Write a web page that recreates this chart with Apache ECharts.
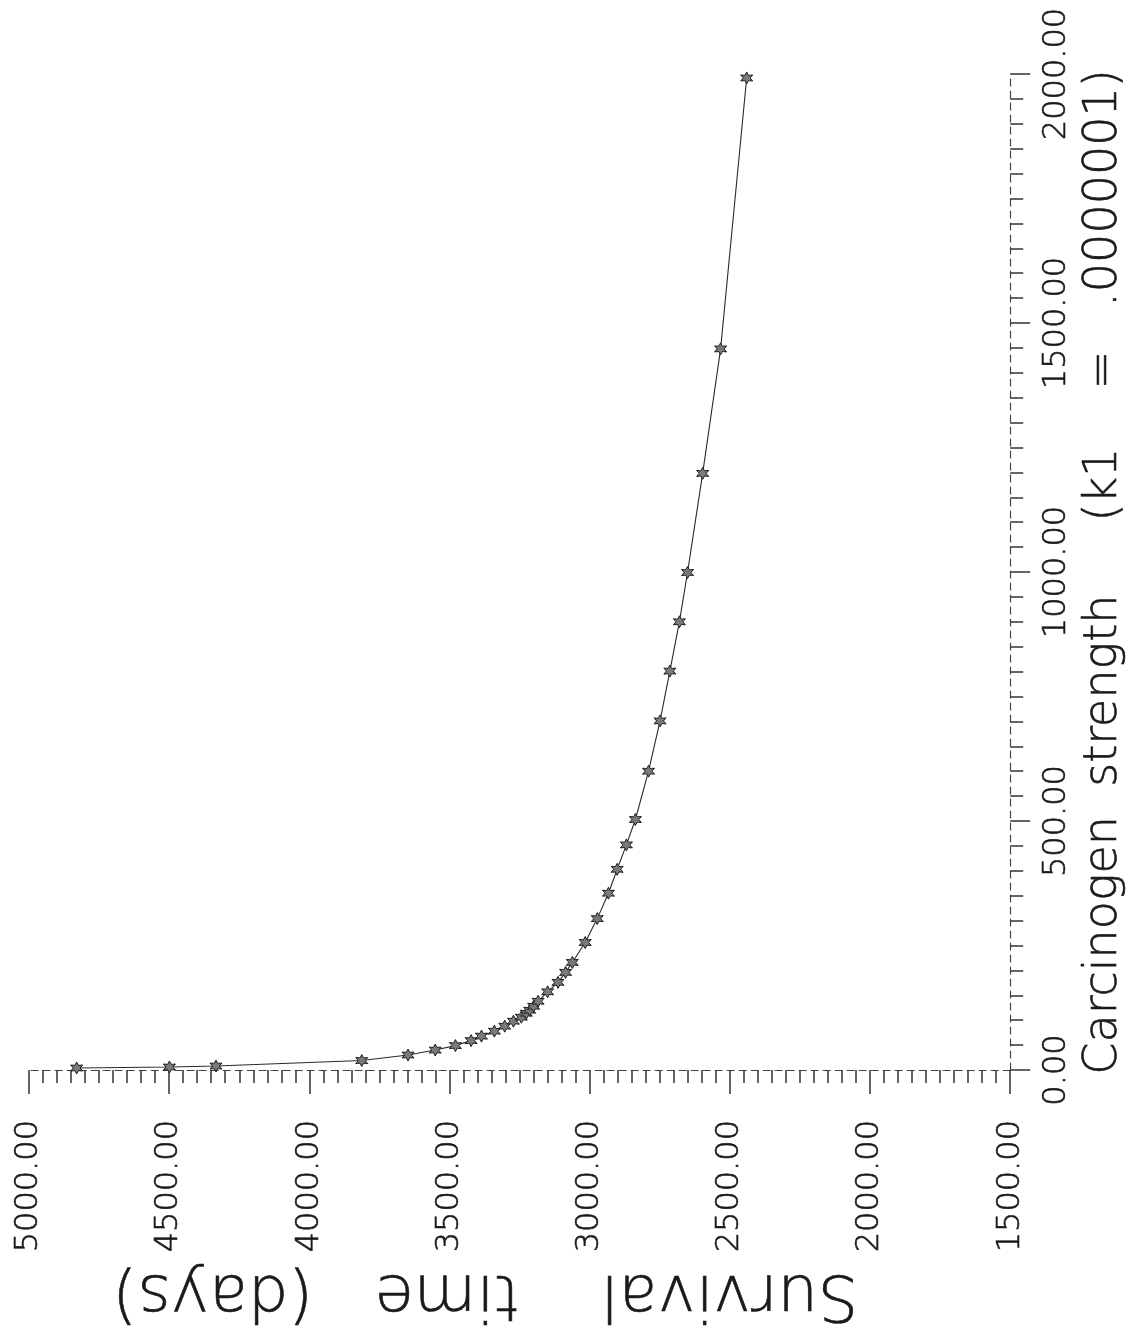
<!DOCTYPE html>
<html>
<head>
<meta charset="utf-8">
<script src="https://cdn.jsdelivr.net/npm/echarts@6/dist/echarts.min.js"></script>
<style>
  html, body { margin: 0; padding: 0; background: #fff; }
  #chart { width: 1135px; height: 1331px; }
</style>
</head>
<body>
<div id="chart"></div>
<script>
// Carcinogen strength (k1 units of .0000001) for each simulated run
const carcinogen = [4, 6, 8, 19, 30, 40, 49, 59, 68, 78, 88, 98, 106, 114, 120, 128, 138,
  157, 176, 196, 216, 256, 304, 355, 403, 452, 503, 600, 701, 801, 900, 999, 1198, 1448, 1992];
// Survival time (days) for each run
const survival = [4830, 4499, 4333, 3813, 3648, 3551, 3479, 3423, 3386, 3340, 3303, 3272, 3244,
  3226, 3214, 3200, 3184, 3150, 3113, 3086, 3062, 3016, 2973, 2933, 2902, 2869, 2837, 2790,
  2749, 2714, 2680, 2651, 2597, 2533, 2440];

const survivalTicks = [1500, 2000, 2500, 3000, 3500, 4000, 4500, 5000];
const carcinogenTicks = [0, 500, 1000, 1500, 2000];

const FONT = '"DejaVu Sans", sans-serif';
const INK = '#1a1a1a';
const inkText = { fontFamily: FONT, fontWeight: 200, color: INK, textBorderColor: INK, textBorderWidth: 0.6 };

// Survival runs along the horizontal axis (decreasing to the right),
// carcinogen strength along the vertical axis on the right side.
const points = carcinogen.map((c, i) => [survival[i], c]);

const star = 'path://M0,-10 L2.6,-4.4 L8.7,-5 L5,0 L8.7,5 L2.6,4.4 L0,10 L-2.6,4.4 L-8.7,5 L-5,0 L-8.7,-5 L-2.6,-4.4 Z';

const chart = echarts.init(document.getElementById('chart'), null, { renderer: 'canvas' });

chart.setOption({
  backgroundColor: '#ffffff',
  animation: false,
  grid: { left: 29, right: 121, top: 74, bottom: 261, containLabel: false },
  xAxis: {
    type: 'value',
    min: survivalTicks[0],
    max: survivalTicks[survivalTicks.length - 1],
    interval: 500,
    inverse: true,
    position: 'bottom',
    name: 'Survival    time   (days)',
    nameLocation: 'middle',
    nameRotate: 180,
    nameGap: 190,
    nameTextStyle: Object.assign({}, inkText, { fontSize: 64, padding: [0, 0, 0, 68] }),
    axisLine: { show: true, lineStyle: { color: '#444', width: 1.2, type: [7, 5] } },
    axisTick: { show: true, length: 24, lineStyle: { color: '#333', width: 1.5 } },
    minorTick: { show: true, splitNumber: 10, length: 13, lineStyle: { color: '#333', width: 1.5 } },
    splitLine: { show: false },
    axisLabel: Object.assign({}, inkText, {
      rotate: 90,
      margin: 50,
      fontSize: 32,
      formatter: v => v.toFixed(2)
    })
  },
  yAxis: {
    type: 'value',
    min: carcinogenTicks[0],
    max: carcinogenTicks[carcinogenTicks.length - 1],
    interval: 500,
    position: 'right',
    name: 'Carcinogen  strength     (k1    =   .0000001)',
    nameLocation: 'middle',
    nameRotate: 90,
    nameGap: 70,
    nameTextStyle: Object.assign({}, inkText, { fontSize: 46 }),
    axisLine: { show: true, lineStyle: { color: '#444', width: 1.2, type: [7, 5] } },
    axisTick: { show: true, length: 20, lineStyle: { color: '#333', width: 1.5 } },
    minorTick: { show: true, splitNumber: 10, length: 13, lineStyle: { color: '#333', width: 1.5 } },
    splitLine: { show: false },
    axisLabel: Object.assign({}, inkText, {
      rotate: 90,
      margin: 30,
      fontSize: 32,
      align: 'center',
      verticalAlign: 'top',
      formatter: v => v.toFixed(2)
    })
  },
  series: [{
    type: 'line',
    data: points,
    smooth: false,
    symbol: star,
    symbolSize: 12,
    itemStyle: { color: '#7a7a7a', borderColor: '#1e1e1e', borderWidth: 1 },
    lineStyle: { color: '#2a2a2a', width: 1.1 }
  }]
});
</script>
</body>
</html>
